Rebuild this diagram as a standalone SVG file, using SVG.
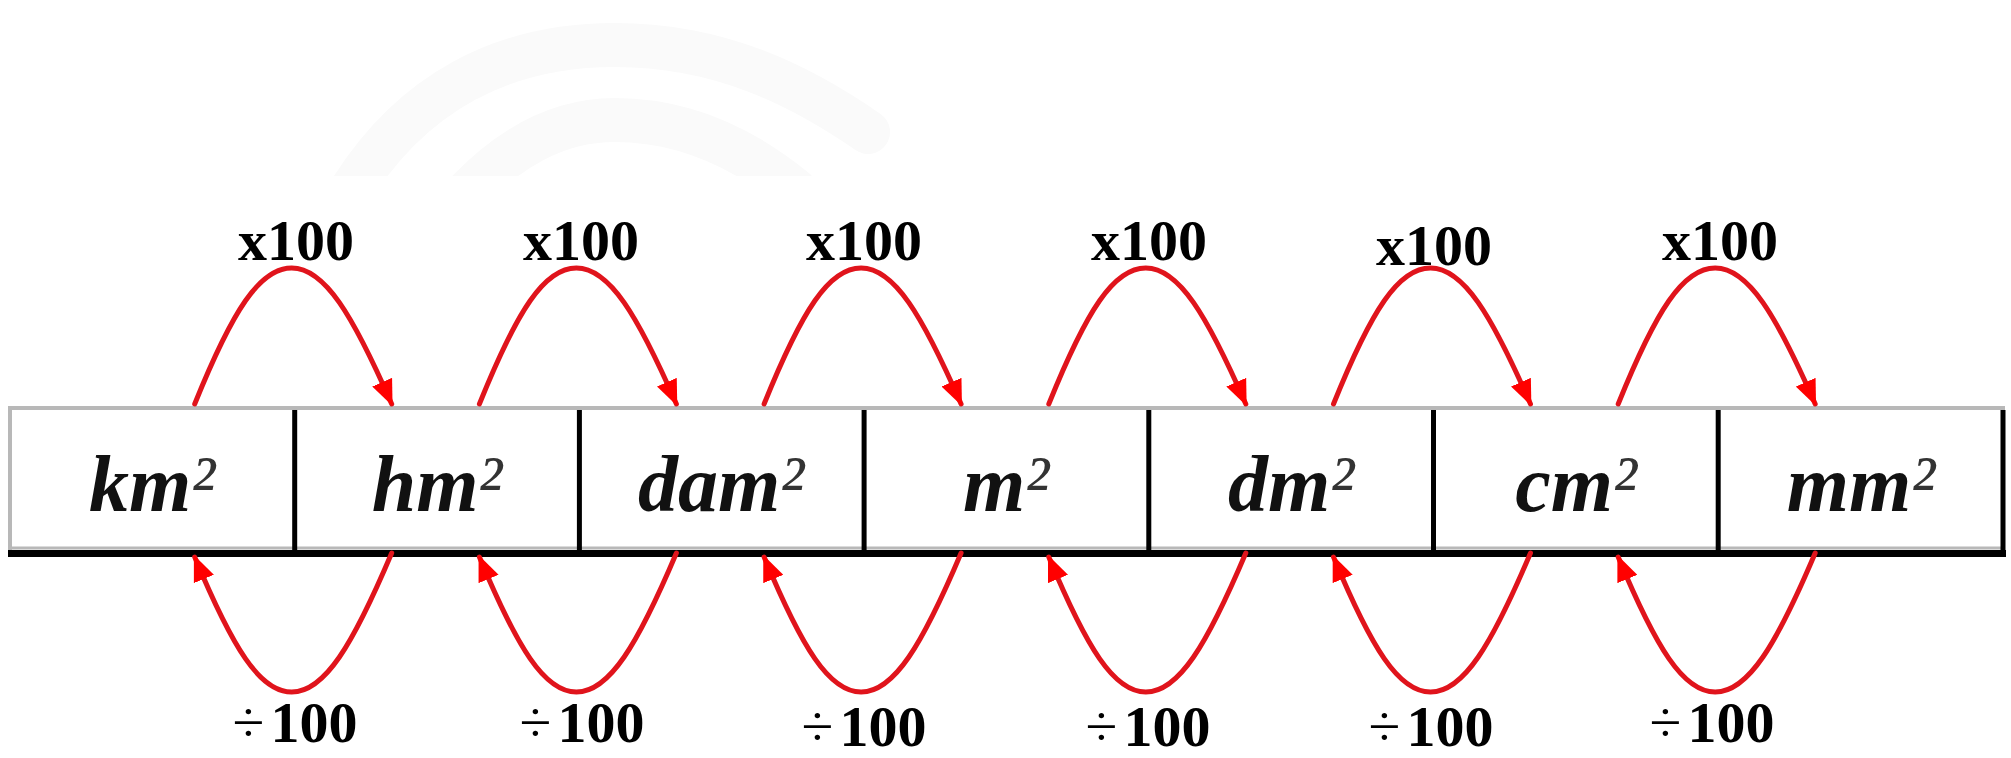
<svg xmlns="http://www.w3.org/2000/svg" width="2011" height="758" viewBox="0 0 2011 758">
  <style>
    .cell { fill: #ffffff; }
    .unit { font-family: "Liberation Serif", "Times New Roman", serif; font-weight: bold; font-style: italic; font-size: 80px; fill: #111111; text-anchor: middle; }
    .sup { font-weight: normal; fill: #333333; }
    .lbl { font-family: "Liberation Serif", "Times New Roman", serif; font-weight: bold; font-size: 58px; fill: #000000; text-anchor: middle; }
    .div { font-weight: normal; }
    .arc { fill: none; stroke: #e0141c; stroke-width: 5; stroke-linecap: round; }
    .gray { stroke: #b8b8b8; }
    .blk { stroke: #000000; }
    .wm { fill: none; stroke: #fafafa; stroke-width: 44; stroke-linecap: round; }
  </style>
  <defs>
    <marker id="ah" viewBox="0 0 12 10" refX="11" refY="5" markerUnits="userSpaceOnUse" markerWidth="26" markerHeight="22" orient="auto">
      <path d="M0,0 L12,5 L0,10 z" fill="#ff0000"/>
    </marker>
    <clipPath id="wmclip"><rect x="0" y="0" width="2011" height="176"/></clipPath>
  </defs>
  <rect width="2011" height="758" fill="#ffffff"/>

  <g id="watermark" clip-path="url(#wmclip)">
    <path class="wm" d="M 345,200 C 410,90 505,45 615,45 C 720,45 800,85 868,132"/>
    <path class="wm" d="M 460,200 C 505,150 555,120 615,120 C 680,120 740,145 795,190"/>
  </g>

  <g id="node-km2"><rect class="cell" x="10" y="408" width="284.7" height="142"/><text class="unit" x="152" y="511">km<tspan class="sup">²</tspan></text></g>
  <g id="node-hm2"><rect class="cell" x="294.7" y="408" width="284.7" height="142"/><text class="unit" x="437" y="511">hm<tspan class="sup">²</tspan></text></g>
  <g id="node-dam2"><rect class="cell" x="579.4" y="408" width="284.7" height="142"/><text class="unit" x="721" y="511">dam<tspan class="sup">²</tspan></text></g>
  <g id="node-m2"><rect class="cell" x="864.1" y="408" width="284.7" height="142"/><text class="unit" x="1006" y="511">m<tspan class="sup">²</tspan></text></g>
  <g id="node-dm2"><rect class="cell" x="1148.8" y="408" width="284.7" height="142"/><text class="unit" x="1291" y="511">dm<tspan class="sup">²</tspan></text></g>
  <g id="node-cm2"><rect class="cell" x="1433.5" y="408" width="284.7" height="142"/><text class="unit" x="1576" y="511">cm<tspan class="sup">²</tspan></text></g>
  <g id="node-mm2"><rect class="cell" x="1718.2" y="408" width="284.7" height="142"/><text class="unit" x="1861" y="511">mm<tspan class="sup">²</tspan></text></g>

  <g id="frame">
    <line class="gray" x1="8" y1="408" x2="2005" y2="408" stroke-width="4"/>
    <line class="gray" x1="10" y1="408" x2="10" y2="550" stroke-width="4"/>
    <line class="gray" x1="10" y1="548" x2="2003" y2="548" stroke-width="3"/>
    <line class="blk" x1="8" y1="553.5" x2="2006" y2="553.5" stroke-width="7"/>
    <g class="blk" stroke-width="5">
      <line x1="294.7" y1="410" x2="294.7" y2="553"/>
      <line x1="579.4" y1="410" x2="579.4" y2="553"/>
      <line x1="864.1" y1="410" x2="864.1" y2="553"/>
      <line x1="1148.8" y1="410" x2="1148.8" y2="553"/>
      <line x1="1433.5" y1="410" x2="1433.5" y2="553"/>
      <line x1="1718.2" y1="410" x2="1718.2" y2="553"/>
      <line x1="2003" y1="410" x2="2003" y2="557"/>
    </g>
  </g>

  <g id="connectors">
    <path class="arc" marker-end="url(#ah)" d="M 194.7,404 C 232.7,310 259.7,268 291.7,268 C 324.7,268 352.7,315 391.7,404"/>
    <path class="arc" marker-end="url(#ah)" d="M 479.4,404 C 517.4,310 544.4,268 576.4,268 C 609.4,268 637.4,315 676.4,404"/>
    <path class="arc" marker-end="url(#ah)" d="M 764.1,404 C 802.1,310 829.1,268 861.1,268 C 894.1,268 922.1,315 961.1,404"/>
    <path class="arc" marker-end="url(#ah)" d="M 1048.8,404 C 1086.8,310 1113.8,268 1145.8,268 C 1178.8,268 1206.8,315 1245.8,404"/>
    <path class="arc" marker-end="url(#ah)" d="M 1333.5,404 C 1371.5,310 1398.5,268 1430.5,268 C 1463.5,268 1491.5,315 1530.5,404"/>
    <path class="arc" marker-end="url(#ah)" d="M 1618.2,404 C 1656.2,310 1683.2,268 1715.2,268 C 1748.2,268 1776.2,315 1815.2,404"/>

    <path class="arc" marker-end="url(#ah)" d="M 391.7,553 C 352.7,645 324.7,692 291.7,692 C 259.7,692 232.7,648 194.7,557"/>
    <path class="arc" marker-end="url(#ah)" d="M 676.4,553 C 637.4,645 609.4,692 576.4,692 C 544.4,692 517.4,648 479.4,557"/>
    <path class="arc" marker-end="url(#ah)" d="M 961.1,553 C 922.1,645 894.1,692 861.1,692 C 829.1,692 802.1,648 764.1,557"/>
    <path class="arc" marker-end="url(#ah)" d="M 1245.8,553 C 1206.8,645 1178.8,692 1145.8,692 C 1113.8,692 1086.8,648 1048.8,557"/>
    <path class="arc" marker-end="url(#ah)" d="M 1530.5,553 C 1491.5,645 1463.5,692 1430.5,692 C 1398.5,692 1371.5,648 1333.5,557"/>
    <path class="arc" marker-end="url(#ah)" d="M 1815.2,553 C 1776.2,645 1748.2,692 1715.2,692 C 1683.2,692 1656.2,648 1618.2,557"/>
  </g>

  <g id="labels">
    <text class="lbl" x="296" y="260">x100</text>
    <text class="lbl" x="581" y="260">x100</text>
    <text class="lbl" x="864" y="260">x100</text>
    <text class="lbl" x="1149" y="260">x100</text>
    <text class="lbl" x="1434" y="265">x100</text>
    <text class="lbl" x="1720" y="260">x100</text>

    <text class="lbl" x="295" y="742"><tspan class="div">÷</tspan><tspan dx="6">100</tspan></text>
    <text class="lbl" x="582" y="742"><tspan class="div">÷</tspan><tspan dx="6">100</tspan></text>
    <text class="lbl" x="864" y="746"><tspan class="div">÷</tspan><tspan dx="6">100</tspan></text>
    <text class="lbl" x="1148" y="746"><tspan class="div">÷</tspan><tspan dx="6">100</tspan></text>
    <text class="lbl" x="1431" y="746"><tspan class="div">÷</tspan><tspan dx="6">100</tspan></text>
    <text class="lbl" x="1712" y="742"><tspan class="div">÷</tspan><tspan dx="6">100</tspan></text>
  </g>
</svg>
